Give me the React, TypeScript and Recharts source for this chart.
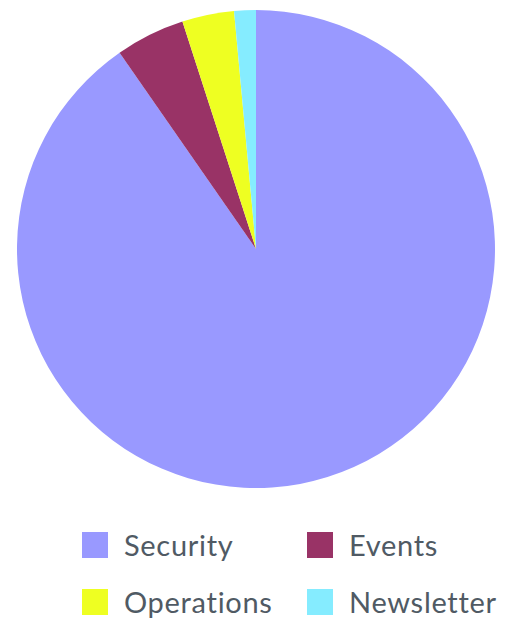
import React from 'react';
import { PieChart, Pie, Cell } from 'recharts';

const categories = ['Security', 'Events', 'Operations', 'Newsletter'];
const values = [925, 48, 36, 15];
const colors = ['#9999ff', '#993366', '#eeff22', '#85ecff'];

const data = categories.map((name, i) => ({ name, value: values[i] }));

const LegendGrid: React.FC = () => (
    <div
        style={{
            position: 'absolute',
            top: 532,
            left: 82,
            display: 'grid',
            gridTemplateColumns: '225px 200px',
            rowGap: 31,
        }}
    >
        {categories.map((name, i) => (
            <div key={name} style={{ display: 'flex', alignItems: 'center', height: 26 }}>
                <span style={{ width: 26, height: 26, background: colors[i], display: 'inline-block', flexShrink: 0 }} />
                <span
                    style={{
                        marginLeft: 16,
                        fontSize: 29,
                        letterSpacing: 0.7,
                        color: '#505a64',
                        fontFamily: 'Lato, sans-serif',
                        lineHeight: '26px',
                        whiteSpace: 'nowrap',
                    }}
                >
                    {name}
                </span>
            </div>
        ))}
    </div>
);

export default function App() {
    return (
        <div style={{ position: 'absolute', top: 0, left: 0, width: 509, height: 619, background: '#fff', overflow: 'hidden' }}>
            <PieChart width={509} height={500} margin={{ top: 0, right: 0, bottom: 0, left: 0 }}>
                <Pie
                    data={data}
                    dataKey="value"
                    nameKey="name"
                    cx={256}
                    cy={249}
                    outerRadius={239}
                    startAngle={90}
                    endAngle={-270}
                    stroke="none"
                    isAnimationActive={false}
                >
                    {data.map((d, i) => (
                        <Cell key={d.name} fill={colors[i]} />
                    ))}
                </Pie>
            </PieChart>
            <LegendGrid />
        </div>
    );
}
